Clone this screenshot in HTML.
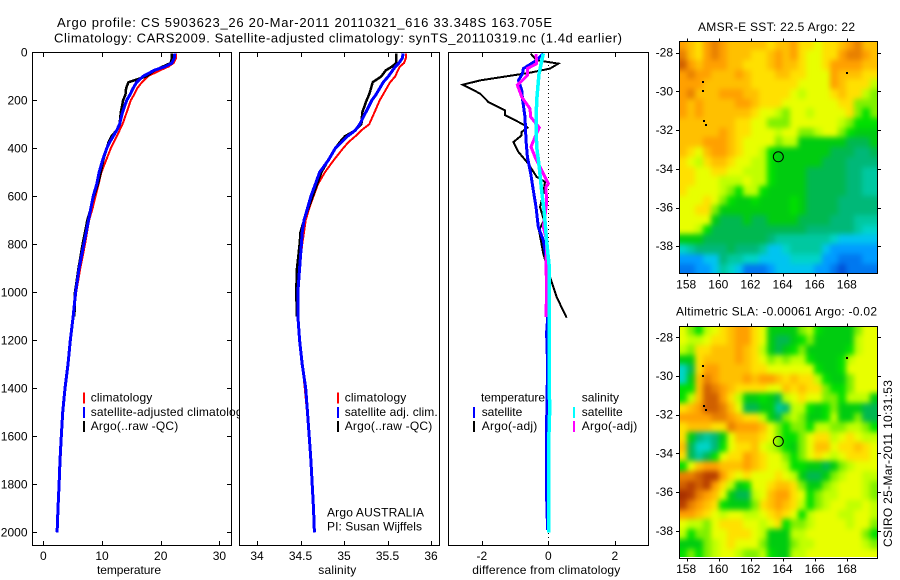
<!DOCTYPE html>
<html lang="en">
<head>
<meta charset="utf-8">
<title>Argo profile CS 5903623_26</title>
<style>
html,body{margin:0;padding:0;background:#fff;}
svg{display:block;}
text{font-family:"Liberation Sans",Arial,sans-serif;font-size:12px;fill:#000;}
</style>
</head>
<body>
<svg id="chart" xmlns="http://www.w3.org/2000/svg" width="900" height="580" viewBox="0 0 900 580">
  <defs>
    <filter id="mapBlur" x="-10%" y="-10%" width="120%" height="120%" color-interpolation-filters="sRGB">
      <feGaussianBlur stdDeviation="2.6"></feGaussianBlur>
    </filter>
    <clipPath id="sstClip"><rect x="680" y="41" width="197" height="232"></rect></clipPath>
    <clipPath id="slaClip"><rect x="680" y="326" width="197" height="231"></rect></clipPath>
  </defs>
  <text x="57" y="27" textLength="495" lengthAdjust="spacing" style="font-size:13px">Argo profile: CS 5903623_26 20-Mar-2011 20110321_616 33.348S 163.705E</text>
  <text x="54" y="42.5" textLength="568" lengthAdjust="spacing" style="font-size:13px">Climatology: CARS2009. Satellite-adjusted climatology: synTS_20110319.nc (1.4d earlier)</text>
  <text x="698" y="31" textLength="157" lengthAdjust="spacing">AMSR-E SST: 22.5 Argo: 22</text>
  <text x="676" y="315.5" textLength="201" lengthAdjust="spacing">Altimetric SLA: -0.00061 Argo: -0.02</text>
  <text transform="translate(892,547) rotate(-90)" textLength="167" lengthAdjust="spacing">CSIRO 25-Mar-2011 10:31:53</text>
  <g id="plots"></g>
</svg>
<script>
// ---------- profile data ----------
const depthLevels = [5,25,45,60,75,100,125,150,175,200,250,300,325,350,375,400,450,500,550,600,650,700,750,800,900,1000,1100,1200,1300,1400,1500,1600,1700,1800,1900,2000];
const tempClim = [22.6,22.6,22.2,21.3,19.9,17.8,16.8,16.0,15.5,14.9,14.2,13.5,13.0,12.5,12.0,11.5,10.7,9.9,9.4,8.9,8.4,7.8,7.45,7.1,6.3,5.6,5.15,4.65,4.25,3.75,3.35,3.1,2.95,2.75,2.55,2.4];
const tempSat = [22.4,22.3,21.9,20.7,18.9,17.0,15.9,15.3,14.8,14.2,13.5,13.0,12.5,11.9,11.3,10.8,10.1,9.5,9.1,8.5,8.1,7.7,7.3,6.9,6.1,5.5,5.1,4.6,4.2,3.7,3.3,3.07,2.85,2.7,2.5,2.35];
const tempArgo = [21.9,21.9,21.7,20.3,19.0,17.6,14.5,14.1,14.0,13.6,13.2,13.0,12.5,11.6,11.1,10.8,10.2,9.8,9.3,8.6,8.1,7.5,7.1,6.7,6.0,5.4,5.3];
const salClim = [35.71,35.71,35.69,35.64,35.62,35.59,35.53,35.49,35.45,35.41,35.35,35.29,35.2,35.13,35.05,34.99,34.88,34.78,34.7,34.65,34.6,34.56,34.54,34.52,34.49,34.47,34.47,34.49,34.52,34.55,34.575,34.595,34.615,34.63,34.645,34.655];
const salSat = [35.68,35.67,35.63,35.59,35.56,35.51,35.45,35.41,35.37,35.32,35.25,35.18,35.13,35.04,34.97,34.9,34.82,34.72,34.67,34.62,34.58,34.54,34.52,34.51,34.49,34.47,34.47,34.49,34.52,34.56,34.58,34.6,34.62,34.635,34.65,34.66];
const salArgo = [35.6,35.6,35.6,35.55,35.48,35.43,35.33,35.31,35.29,35.26,35.21,35.2,35.13,35.01,34.95,34.9,34.82,34.74,34.69,34.64,34.59,34.54,34.5,34.49,34.46,34.45,34.46];

const diffTempArgoDepth = [6,33,47,68,85,100,117,135,158,172,207,242,262,304,314,332,346,374,415,464,519,540,589,644,700,742,839,936,1019,1106];
const diffTempArgo = [-0.53,-0.35,0.30,0.05,-0.55,-1.25,-2.05,-2.57,-2.25,-2.05,-1.8,-1.3,-1.3,-0.7,-0.63,-0.8,-0.8,-1.05,-0.9,-0.6,-0.35,-0.1,-0.15,-0.25,-0.13,-0.28,-0.15,0.05,0.25,0.55];
const diffSalArgoDepth = [8,47,68,96,137,186,235,269,314,353,394,436,478,547,561,631,728,783,894,978,1103];
const diffSalArgo = [-0.37,-0.35,-0.63,-0.63,-0.93,-0.8,-0.55,-0.53,-0.27,-0.4,-0.52,-0.4,-0.25,0,-0.07,-0.05,-0.15,-0.05,-0.07,-0.05,-0.07];
const diffTempSatDepth = [5,33,68,90,117,158,200,270,367,436,505,575,644,728,783,853,922,1005,1170,1300,1550,1850,1990];
const diffTempSat = [-0.15,-0.35,-0.75,-0.78,-0.9,-0.8,-0.77,-0.7,-0.67,-0.63,-0.53,-0.45,-0.37,-0.3,-0.15,-0.07,-0.05,0.03,-0.05,-0.02,-0.05,-0.05,-0.02];
const diffSalSatDepth = [5,90,200,300,395,480,575,670,785,895,1005,1170,1330,1500,1640,2000];
const diffSalSat = [-0.15,-0.28,-0.35,-0.37,-0.35,-0.27,-0.2,-0.12,-0.05,0.03,0.03,0.03,0.03,0.04,0.01,0.01];

const depthTicks = [0,200,400,600,800,1000,1200,1400,1600,1800,2000];
const tempTicks = [0,10,20,30];
const salTicks = [34,34.5,35,35.5,36];
const diffTicks = [-2,0,2];
const lonTicks = [158,160,162,164,166,168];
const latTicks = [-28,-30,-32,-34,-36,-38];

// ---------- map data: colour level per 0.5-degree cell, north to south ----------
const sstLevels = [
[15,14,13,15,16,15,14,14,14,14,14,13,14,14,15,13,13,12,13,13,14,15,16,14,14],
[16,14,13,15,16,15,14,14,14,13,13,14,15,14,15,13,12,12,13,13,15,16,16,15,14],
[17,15,14,15,15,15,14,14,13,13,13,14,15,14,14,13,12,12,13,15,15,15,15,14,14],
[15,16,15,15,14,14,14,15,14,13,13,13,14,14,13,13,12,12,12,15,14,14,14,13,13],
[15,15,15,14,14,14,14,14,14,13,13,13,13,13,13,12,12,12,12,15,14,13,13,13,11],
[15,16,14,14,14,15,15,15,14,14,13,13,13,13,12,11,12,12,12,13,14,13,13,11,10],
[15,14,15,14,14,14,14,15,15,14,13,13,13,12,12,12,12,12,12,12,13,13,10,10,10],
[15,14,15,14,14,14,14,14,14,13,12,12,11,10,12,12,11,12,12,12,12,13,10,9,10],
[14,14,14,14,14,14,14,13,13,12,12,10,10,10,12,12,12,12,12,12,11,10,9,9,9],
[14,14,14,14,14,15,14,13,13,12,12,12,11,12,12,10,10,11,12,12,10,9,8,8,8],
[14,14,14,15,15,15,14,13,12,12,12,12,10,11,11,8,8,8,8,8,8,7,7,7,8],
[14,13,12,14,15,15,14,13,12,12,11,9,8,8,8,8,8,8,8,7,7,7,6,6,7],
[13,12,11,13,14,14,13,12,12,11,11,9,8,8,8,8,8,8,7,7,7,6,6,6,6],
[13,13,12,12,13,13,12,12,11,11,11,9,8,8,8,8,7,7,7,7,7,6,6,5,5],
[13,13,12,12,12,11,11,11,12,11,11,9,8,8,8,8,7,7,7,7,7,6,6,5,5],
[13,12,12,12,12,11,10,9,11,11,9,8,8,8,8,8,7,7,7,7,7,6,6,5,5],
[12,12,12,13,12,10,9,8,8,9,8,8,8,8,9,8,7,7,7,7,6,6,6,6,6],
[12,12,13,13,10,8,8,8,8,8,8,8,8,8,9,8,7,7,7,7,6,6,6,6,6],
[12,12,12,12,8,7,7,7,8,7,7,8,8,8,8,7,7,7,7,6,6,6,5,5,5],
[12,12,11,9,7,7,7,7,7,7,7,7,7,7,7,7,6,6,6,6,6,6,5,4,4],
[8,8,8,7,7,7,7,7,7,7,7,6,5,5,5,5,5,5,5,4,3,3,3,3,3],
[4,5,6,6,6,6,7,6,6,6,5,3,3,4,5,5,5,5,3,2,2,2,2,2,2],
[2,2,2,3,3,6,5,5,4,4,3,3,3,3,4,4,4,4,2,2,1,1,1,2,2],
[1,1,2,2,3,5,4,3,1,1,1,2,3,3,3,3,3,2,2,1,0,1,1,1,1]
];
const slaLevels = [
[12,10,9,11,12,13,14,15,15,13,12,8,8,8,8,10,11,9,8,8,8,8,10,12,12],
[12,11,11,12,13,13,14,15,15,13,12,8,7,7,8,9,10,8,8,8,8,8,11,12,12],
[11,10,13,13,14,14,14,15,14,13,11,8,7,8,9,10,8,8,8,8,8,9,11,12,12],
[8,8,13,14,14,14,14,15,14,13,12,10,11,10,11,11,9,8,8,8,9,11,12,12,12],
[4,7,13,15,15,14,14,14,14,13,13,12,12,12,12,12,12,9,8,8,9,12,12,12,12],
[4,8,14,16,15,14,14,14,15,14,15,15,14,13,14,13,13,11,9,8,8,10,12,12,12],
[9,9,14,17,16,15,14,13,13,13,13,12,12,14,13,14,13,13,10,9,9,10,12,12,12],
[9,11,14,17,17,15,13,11,8,8,9,8,7,11,12,13,12,12,10,10,9,11,11,11,8],
[13,14,15,17,17,16,14,12,7,7,8,8,5,6,11,11,9,8,9,10,8,8,8,7,7],
[15,15,15,15,16,16,15,14,13,13,11,8,7,10,11,10,8,8,9,11,8,8,10,7,7],
[13,14,14,14,13,13,16,15,15,15,14,12,10,9,10,10,9,11,11,10,10,11,11,10,9],
[13,8,6,5,6,8,12,14,14,14,13,12,10,9,9,10,12,13,13,11,12,13,12,11,11],
[14,7,4,4,6,9,12,13,13,14,12,11,10,9,8,10,12,14,14,12,13,13,14,13,12],
[13,7,5,7,9,12,13,13,15,14,13,12,12,10,9,10,12,13,12,11,12,13,13,13,12],
[9,12,14,15,15,14,14,14,15,14,13,12,12,11,9,9,8,8,7,8,10,11,12,12,12],
[16,16,17,18,18,15,13,12,13,12,12,12,13,12,11,8,7,7,8,10,11,12,12,11,11],
[17,18,17,18,15,13,11,8,9,12,12,13,14,14,13,10,8,8,10,11,12,12,12,11,10],
[19,18,16,15,14,12,8,7,7,11,12,14,15,15,13,12,9,10,11,11,12,12,12,11,10],
[18,16,15,14,13,9,8,8,8,10,13,14,15,14,13,11,9,10,11,12,12,11,11,12,11],
[15,15,14,13,12,11,12,12,11,11,12,13,14,13,12,9,11,12,12,12,11,11,12,12,11],
[12,11,11,10,12,13,13,13,12,12,11,12,13,9,10,10,11,12,12,12,12,11,12,12,10],
[11,9,10,10,12,12,13,13,13,12,11,8,8,8,11,11,12,12,12,12,12,12,12,10,9],
[8,8,8,10,11,12,13,12,12,12,10,8,8,8,10,11,11,12,12,12,12,12,12,11,10],
[9,10,9,10,11,12,12,11,10,10,11,9,8,8,11,11,12,12,12,12,12,12,12,12,12]
];
const islandLons = [159,159,159.05,159.2,168];
const islandLats = [-29.5,-30,-31.55,-31.75,-29.05];
const argoLon = 163.705;
const argoLat = -33.348;

// ---------- drawing ----------
const NS = 'http://www.w3.org/2000/svg';
const root = document.getElementById('plots');
const palette = ['#0050d8','#0078f0','#009cff','#00c4f0','#00d4c8','#00c8a0','#00b878','#00b850','#00cc10','#00e000','#80f000','#c0ff00','#e8ff00','#ffe000','#ffc000','#ffa000','#e88000','#d06000','#b84000','#a83000'];

function add(parent, tag, attrs, txt) {
  const el = document.createElementNS(NS, tag);
  for (const k in attrs) el.setAttribute(k, attrs[k]);
  if (txt !== undefined) el.textContent = txt;
  parent.appendChild(el);
  return el;
}
const depthY = d => 52.3 + 0.24 * d;
const tempX = v => 43.3 + 5.87 * v;
const salX = v => 257 + 87 * (v - 34);
const diffX = v => 548.3 + 33.25 * v;

function series(parent, name, depths, vals, xf, color, w) {
  const n = Math.min(depths.length, vals.length);
  const pts = [];
  for (let i = 0; i < n; i++) pts.push(xf(vals[i]).toFixed(1) + ',' + depthY(depths[i]).toFixed(1));
  const el = add(parent, 'polyline', {points: pts.join(' '), fill: 'none', stroke: color, 'stroke-width': w, 'shape-rendering': 'crispEdges', 'stroke-linejoin': 'miter'});
  
  
}
function panel(name, x0, x1, xf, ticks, fmt, label, labelX, labelLen) {
  const g = add(root, 'g', {});
  
  
  const bg = add(g, 'rect', {x: x0 + .5, y: 52.5, width: x1 - x0, height: 493, fill: '#fff', stroke: 'none'});
  
  
  ticks.forEach(t => {
    const x = Math.round(xf(t)) + .5;
    const b = add(g, 'path', {d: `M${x} 53V57M${x} 545V541`, stroke: '#000', 'stroke-width': 1, fill: 'none', 'shape-rendering': 'crispEdges'});
    
    
    const l = add(g, 'text', {x: xf(t), y: 560, 'text-anchor': 'middle'}, fmt(t));
    
    
  });
  const a = add(g, 'text', {x: labelX, y: 574, textLength: labelLen, lengthAdjust: 'spacing'}, label);
  
  
  return g;
}
function frame(g, x0, x1) {
  const f = add(g, 'rect', {x: x0 + .5, y: 52.5, width: x1 - x0, height: 493, fill: 'none', stroke: '#000', 'stroke-width': 1, 'shape-rendering': 'crispEdges'});
  
  
}
function legend(g, name, lineX, textX, baseY, color, txt, len) {
  const m = add(g, 'rect', {x: lineX, y: baseY - 9, width: 2, height: 11, fill: color});
  
  
  const t = add(g, 'text', {x: textX, y: baseY, textLength: len, lengthAdjust: 'spacing'}, txt);
  
  
}
function plainText(g, name, x, y, txt, len) {
  const t = add(g, 'text', {x: x, y: y, textLength: len, lengthAdjust: 'spacing'}, txt);
  
  
}

// temperature panel
const p1 = panel('temperature-panel', 32, 231, tempX, tempTicks, String, 'temperature', 97, 64);
depthTicks.forEach(d => {
  const y = Math.round(depthY(d)) + .5;
  const tk = add(p1, 'path', {d: `M33 ${y}H37M231 ${y}H227`, stroke: '#000', fill: 'none', 'stroke-width': 1, 'shape-rendering': 'crispEdges'});
  
  
  const l = add(p1, 'text', {x: 27.5, y: depthY(d) + 4, 'text-anchor': 'end'}, String(d));
  
  
});
series(p1, 'temperature-climatology-line', depthLevels, tempClim, tempX, '#ff0000', 2);
series(p1, 'temperature-argo-line', depthLevels, tempArgo, tempX, '#000000', 2.5);
series(p1, 'temperature-satellite-line', depthLevels, tempSat, tempX, '#0000ff', 3);
legend(p1, 'climatology', 83, 90.7, 401.5, '#ff0000', 'climatology', 61.6);
legend(p1, 'satellite-adjusted', 83, 90.7, 416, '#0000ff', 'satellite-adjusted climatology', 158);
legend(p1, 'argo-raw', 83, 90.7, 430, '#000000', 'Argo(..raw -QC)', 87.6);
frame(p1, 32, 231);

// salinity panel
const p2 = panel('salinity-panel', 239, 439, salX, salTicks, String, 'salinity', 318.3, 38);
series(p2, 'salinity-climatology-line', depthLevels, salClim, salX, '#ff0000', 2);
series(p2, 'salinity-argo-line', depthLevels, salArgo, salX, '#000000', 2.5);
series(p2, 'salinity-satellite-line', depthLevels, salSat, salX, '#0000ff', 3);
legend(p2, 'climatology', 337, 344.7, 401.5, '#ff0000', 'climatology', 61.6);
legend(p2, 'satellite-adj', 337, 344.7, 416, '#0000ff', 'satellite adj. clim.', 93);
legend(p2, 'argo-raw', 337, 344.7, 430, '#000000', 'Argo(..raw -QC)', 87.6);
plainText(p2, 'argo-australia-note', 327, 516.5, 'Argo AUSTRALIA', 97);
plainText(p2, 'pi-note', 327, 530.5, 'PI: Susan Wijffels', 95);
frame(p2, 239, 439);

// difference panel
const p3 = panel('difference-panel', 448, 648, diffX, diffTicks, String, 'difference from climatology', 472.3, 148);
const zero = add(p3, 'line', {x1: Math.round(diffX(0)) + .5, x2: Math.round(diffX(0)) + .5, y1: 53, y2: 545, stroke: '#000', 'stroke-width': 1, 'stroke-dasharray': '1 3', 'shape-rendering': 'crispEdges'});


series(p3, 'temperature-argo-diff-line', diffTempArgoDepth, diffTempArgo, diffX, '#000000', 2);
series(p3, 'temperature-satellite-diff-line', diffTempSatDepth, diffTempSat, diffX, '#0000ff', 3);
series(p3, 'salinity-argo-diff-line', diffSalArgoDepth, diffSalArgo, diffX, '#ff00ff', 3);
series(p3, 'salinity-satellite-diff-line', diffSalSatDepth, diffSalSat, diffX, '#00ffff', 3.5);
plainText(p3, 'temperature-legend-heading', 481, 401.5, 'temperature', 64);
legend(p3, 'temperature-satellite', 473, 481.7, 416, '#0000ff', 'satellite', 40.6);
legend(p3, 'temperature-argo', 473, 481.7, 430, '#000000', 'Argo(-adj)', 55.6);
plainText(p3, 'salinity-legend-heading', 581.7, 401.5, 'salinity', 37.3);
legend(p3, 'salinity-satellite', 573, 581.7, 416, '#00ffff', 'satellite', 41);
legend(p3, 'salinity-argo', 573, 581.7, 430, '#ff00ff', 'Argo(-adj)', 55.6);
frame(p3, 448, 648);

// maps
const lonX = lon => 686.7 + 16.06 * (lon - 158);
const lonStart = 157.55;
const lonStep = 12.33 / 25;
const latStep = 12.03 / 24;
function drawMap(name, levels, lat28Y, labelY, clipId, topY) {
  const latY = lat => lat28Y + 19.35 * (-28 - lat);
  const g = add(root, 'g', {});
  
  
  const latStart = -28 + (lat28Y - topY) / 19.35;
  const clip = add(g, 'g', {'clip-path': 'url(#' + clipId + ')'});
  
  
  const field = add(clip, 'g', {filter: 'url(#mapBlur)'});
  
  
  const lastR = levels.length - 1;
  levels.forEach((row, r) => {
    const lastC = row.length - 1;
    row.forEach((lv, c) => {
      const lon = lonStart + c * lonStep;
      const lat = latStart - r * latStep;
      let x = Math.round(lonX(lon));
      let y = Math.round(latY(lat));
      let w = Math.round(lonX(lon + lonStep)) - x;
      let h = Math.round(latY(lat - latStep)) - y;
      // outer cells run past the frame so the smoothing does not fade at the edge
      if (c === 0) { x -= 10; w += 10; }
      if (c === lastC) { w += 10; }
      if (r === 0) { y -= 10; h += 10; }
      if (r === lastR) { h += 10; }
      const cell = add(field, 'rect', {x: x, y: y, width: w, height: h, fill: palette[lv], 'shape-rendering': 'crispEdges'});
      
      
    });
  });
  islandLons.forEach((lon, i) => {
    const sp = add(g, 'rect', {x: Math.round(lonX(lon)) - 1, y: Math.round(latY(islandLats[i])) - 1, width: 2, height: 2, fill: '#000', 'shape-rendering': 'crispEdges'});
    
    
  });
  const top = Math.round(latY(latStart)) + .5;
  const bottom = Math.round(latY(latStart - levels.length * latStep)) + .5;
  const box = add(g, 'rect', {x: 679.5, y: top, width: 198, height: bottom - top, fill: 'none', stroke: '#000', 'stroke-width': 1, 'shape-rendering': 'crispEdges'});
  
  
  lonTicks.forEach(lon => {
    const x = Math.round(lonX(lon)) + .5;
    const t = add(g, 'path', {d: `M${x} ${top}v-3M${x} ${bottom}v3`, stroke: '#000', fill: 'none', 'stroke-width': 1, 'shape-rendering': 'crispEdges'});
    
    
    const l = add(g, 'text', {x: lonX(lon) - 0.5, y: labelY, 'text-anchor': 'middle'}, String(lon));
    
    
  });
  latTicks.forEach(lat => {
    const y = Math.round(latY(lat)) + .5;
    const t = add(g, 'path', {d: `M679 ${y}h-3M878 ${y}h3`, stroke: '#000', fill: 'none', 'stroke-width': 1, 'shape-rendering': 'crispEdges'});
    
    
    const l = add(g, 'text', {x: 673, y: latY(lat) + 4, 'text-anchor': 'end'}, String(lat));
    
    
  });
  const marker = add(g, 'circle', {cx: lonX(argoLon), cy: latY(argoLat) + 0.6, r: 5, fill: 'none', stroke: '#000', 'stroke-width': 1});
  
  
}
drawMap('sst-map', sstLevels, 52.7, 288.5, 'sstClip', 40.5);
drawMap('sla-map', slaLevels, 337.3, 573, 'slaClip', 325.5);
</script>
</body>
</html>
